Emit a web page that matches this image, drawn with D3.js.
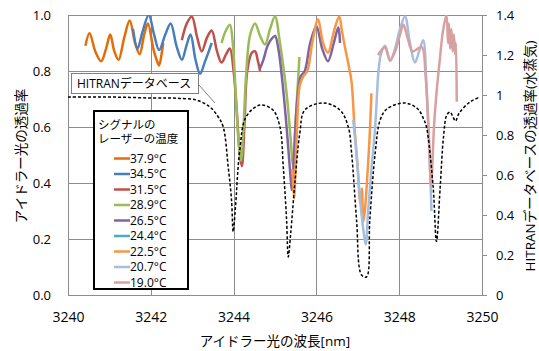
<!DOCTYPE html>
<html>
<head>
<meta charset="utf-8">
<script src="https://cdn.jsdelivr.net/npm/d3@7"></script>
<style>
  body { margin: 0; background: #fff; }
  text { font-family: "Open Sans", "Noto Sans CJK JP", sans-serif; fill: #000; }
</style>
</head>
<body>
<div id="chart"></div>
<script>
// measured series: [wavelength nm, transmittance]
const s379 = [[3240.42,0.89],[3240.52,0.935],[3240.66,0.87],[3240.80,0.835],[3240.92,0.88],[3241.02,0.93],[3241.12,0.87],[3241.22,0.84],[3241.36,0.92],[3241.49,0.98],[3241.62,0.9],[3241.73,0.86],[3241.84,0.93],[3241.93,0.97],[3242.06,0.88],[3242.14,0.84],[3242.2,0.82],[3242.26,0.86],[3242.3,0.9]];
const s345 = [[3241.57,0.95],[3241.68,0.88],[3241.8,0.94],[3241.95,1.0],[3242.08,0.93],[3242.2,0.875],[3242.35,0.93],[3242.48,0.97],[3242.62,0.89],[3242.75,0.84],[3242.86,0.89],[3242.96,0.93],[3243.08,0.84],[3243.19,0.79],[3243.3,0.83],[3243.4,0.87],[3243.47,0.9]];
const s315 = [[3242.75,0.91],[3242.87,0.97],[3242.99,0.995],[3243.12,0.92],[3243.23,0.87],[3243.36,0.92],[3243.47,0.945],[3243.6,0.87],[3243.71,0.83],[3243.82,0.86],[3243.91,0.88],[3244.0,0.8],[3244.08,0.65],[3244.15,0.5],[3244.2,0.46],[3244.26,0.6],[3244.33,0.8],[3244.44,0.865],[3244.52,0.87],[3244.58,0.84],[3244.64,0.80]];
const s289 = [[3243.71,0.9],[3243.8,0.94],[3243.91,0.965],[3243.98,0.9],[3244.05,0.72],[3244.12,0.55],[3244.18,0.48],[3244.24,0.6],[3244.3,0.78],[3244.4,0.93],[3244.52,0.97],[3244.64,0.925],[3244.76,0.895],[3244.88,0.95],[3245.0,0.995],[3245.12,0.9],[3245.28,0.72],[3245.36,0.59],[3245.44,0.46],[3245.49,0.6],[3245.59,0.85]];
const s265 = [[3244.64,0.81],[3244.72,0.84],[3244.82,0.89],[3244.92,0.915],[3245.0,0.925],[3245.08,0.88],[3245.18,0.76],[3245.28,0.6],[3245.36,0.45],[3245.41,0.375],[3245.46,0.5],[3245.54,0.7],[3245.62,0.78],[3245.72,0.8],[3245.85,0.9],[3246.0,0.96],[3246.14,0.88],[3246.28,0.835],[3246.42,0.9],[3246.53,0.955],[3246.57,0.9]];
const s244 = [];
const s225 = [[3245.42,0.45],[3245.46,0.345],[3245.52,0.55],[3245.6,0.75],[3245.68,0.78],[3245.78,0.8],[3245.9,0.9],[3246.04,0.985],[3246.16,0.9],[3246.28,0.865],[3246.42,0.94],[3246.55,0.995],[3246.62,0.94],[3246.69,0.885],[3246.78,0.82],[3246.85,0.76],[3246.92,0.6],[3247.0,0.45],[3247.06,0.33],[3247.1,0.38],[3247.13,0.26],[3247.17,0.3],[3247.22,0.4],[3247.28,0.55],[3247.33,0.72]];
const s207 = [[3246.89,0.625],[3246.97,0.5],[3247.05,0.35],[3247.12,0.25],[3247.19,0.18],[3247.25,0.3],[3247.33,0.45],[3247.42,0.6],[3247.5,0.8],[3247.56,0.86],[3247.66,0.89],[3247.78,0.835],[3247.9,0.88],[3248.02,0.95],[3248.14,0.995],[3248.26,0.9],[3248.38,0.83],[3248.48,0.87],[3248.58,0.91],[3248.66,0.74],[3248.72,0.55],[3248.78,0.3]];
const s190 = [[3247.49,0.857],[3247.6,0.88],[3247.66,0.885],[3247.78,0.84],[3247.9,0.87],[3248.02,0.93],[3248.1,0.965],[3248.2,0.92],[3248.32,0.87],[3248.45,0.88],[3248.55,0.885],[3248.64,0.78],[3248.72,0.55],[3248.77,0.39],[3248.84,0.6],[3248.9,0.72],[3248.98,0.84],[3249.06,0.945],[3249.14,1.0],[3249.18,0.9],[3249.2,0.97],[3249.23,0.88],[3249.26,0.95],[3249.29,0.87],[3249.32,0.93],[3249.35,0.86],[3249.37,0.9],[3249.39,0.69]];

// HITRAN database (right axis)
const hitran = [[3240,0.99],[3240.5,0.99],[3241,0.99],[3241.5,0.988],[3242,0.985],[3242.4,0.985],[3242.7,0.983],[3243.1,0.975],[3243.43,0.94],[3243.63,0.89],[3243.75,0.84],[3243.87,0.64],[3243.95,0.475],[3243.99,0.317],[3244.04,0.425],[3244.15,0.725],[3244.3,0.89],[3244.64,0.95],[3244.95,0.925],[3245.12,0.84],[3245.2,0.64],[3245.28,0.375],[3245.32,0.19],[3245.38,0.31],[3245.48,0.56],[3245.6,0.81],[3245.72,0.925],[3246.17,0.96],[3246.57,0.925],[3246.77,0.84],[3246.85,0.71],[3246.97,0.375],[3247.09,0.10],[3247.21,0.09],[3247.29,0.375],[3247.42,0.71],[3247.54,0.875],[3247.7,0.93],[3248.14,0.96],[3248.45,0.93],[3248.6,0.875],[3248.66,0.84],[3248.82,0.54],[3248.9,0.267],[3248.99,0.54],[3249.07,0.79],[3249.15,0.9],[3249.23,0.915],[3249.3,0.89],[3249.36,0.87],[3249.45,0.91],[3249.71,0.965],[3249.95,0.99]];

const labels = ['37.9°C','34.5°C','31.5°C','28.9°C','26.5°C','24.4°C','22.5°C','20.7°C','19.0°C'];
const colors = ['#E46C0A','#4A7EBB','#C0504D','#9BBB59','#8064A2','#4BACC6','#F79646','#A6BEDD','#D9A0A0'];
const seriesData = [s379, s345, s315, s289, s265, s244, s225, s207, s190];

const xTicks = [3240, 3242, 3244, 3246, 3248, 3250];
const yTicks = [0, 0.2, 0.4, 0.6, 0.8, 1.0];
const y2Ticks = [0, 0.2, 0.4, 0.6, 0.8, 1, 1.2, 1.4];

const width = 539, height = 351;
const margin = {top: 15, right: 57, bottom: 56, left: 68};
const w = width - margin.left - margin.right;
const h = height - margin.top - margin.bottom;

const svg = d3.select('#chart').append('svg')
  .attr('width', width)
  .attr('height', height);

const g = svg.append('g').attr('transform', `translate(${margin.left},${margin.top})`);

const x = d3.scaleLinear().domain([3240, 3250]).range([0, w]);
const y = d3.scaleLinear().domain([0, 1]).range([h, 0]);
const y2 = d3.scaleLinear().domain([0, 1.4]).range([h, 0]);

const gridColor = '#8c8c8c';

// gridlines
g.append('g')
  .selectAll('line')
  .data(xTicks.slice(1, -1))
  .join('line')
  .attr('x1', d => Math.round(x(d)) + 0.5)
  .attr('x2', d => Math.round(x(d)) + 0.5)
  .attr('y1', 0).attr('y2', h)
  .attr('stroke', gridColor);

g.append('g')
  .selectAll('line')
  .data(yTicks.slice(1, -1))
  .join('line')
  .attr('y1', d => Math.round(y(d)) + 0.5)
  .attr('y2', d => Math.round(y(d)) + 0.5)
  .attr('x1', 0).attr('x2', w)
  .attr('stroke', gridColor);

// plot border
g.append('rect')
  .attr('x', 0.5).attr('y', 0.5)
  .attr('width', w).attr('height', h)
  .attr('fill', 'none')
  .attr('stroke', gridColor);

// left axis labels
const yAxis = g.append('g')
  .call(d3.axisLeft(y).tickValues(yTicks).tickFormat(d3.format('.1f')).tickSize(0).tickPadding(17));
yAxis.select('.domain').remove();
yAxis.selectAll('text').attr('font-size', 13).attr('font-family', null);

// right axis
const y2Axis = g.append('g')
  .attr('transform', `translate(${w},0)`)
  .call(d3.axisRight(y2).tickValues(y2Ticks).tickFormat(d => d3.format('~g')(d)).tickSize(5).tickPadding(9));
y2Axis.select('.domain').remove();
y2Axis.selectAll('line').attr('stroke', gridColor);
y2Axis.selectAll('text').attr('font-size', 13).attr('font-family', null);

// x axis labels
const xAxis = g.append('g')
  .attr('transform', `translate(0,${h})`)
  .call(d3.axisBottom(x).tickValues(xTicks).tickFormat(d3.format('d')).tickSize(0).tickPadding(17));
xAxis.select('.domain').remove();
xAxis.selectAll('text').attr('font-size', 14).attr('font-family', null);

// clip
svg.append('defs').append('clipPath').attr('id', 'plotClip')
  .append('rect').attr('x', 0).attr('y', 0).attr('width', w).attr('height', h);

const line = d3.line()
  .x(d => x(d[0]))
  .y(d => y(d[1]))
  .curve(d3.curveCatmullRom.alpha(0.5));

const plot = g.append('g').attr('clip-path', 'url(#plotClip)');

plot.selectAll('path.series')
  .data(seriesData)
  .join('path')
  .attr('class', 'series')
  .attr('d', d => d.length ? line(d) : null)
  .attr('fill', 'none')
  .attr('stroke', (d, i) => colors[i])
  .attr('stroke-width', 2.5)
  .attr('stroke-linejoin', 'round');

const line2 = d3.line()
  .x(d => x(d[0]))
  .y(d => y2(d[1]))
  .curve(d3.curveCatmullRom.alpha(0.5));

plot.append('path')
  .attr('d', line2(hitran))
  .attr('fill', 'none')
  .attr('stroke', '#000')
  .attr('stroke-width', 1.5)
  .attr('stroke-dasharray', '3,2');

// HITRAN callout
svg.append('line')
  .attr('x1', 198).attr('y1', 84)
  .attr('x2', 215).attr('y2', 103)
  .attr('stroke', '#7f7f7f');
svg.append('rect')
  .attr('x', 71.5).attr('y', 73.5)
  .attr('width', 127).attr('height', 20)
  .attr('fill', '#fff')
  .attr('stroke', '#7f7f7f');
svg.append('text')
  .attr('x', 77).attr('y', 88)
  .attr('font-size', 12)
  .text('HITRANデータベース');

// legend
const legend = svg.append('g');
legend.append('rect')
  .attr('x', 94).attr('y', 111)
  .attr('width', 94).attr('height', 178)
  .attr('fill', '#fff')
  .attr('stroke', '#000')
  .attr('stroke-width', 2);
legend.append('text').attr('x', 98).attr('y', 128.5).attr('font-size', 11.5).text('シグナルの');
legend.append('text').attr('x', 98).attr('y', 143).attr('font-size', 11.5).text('レーザーの温度');

const items = legend.selectAll('g.item')
  .data(labels)
  .join('g')
  .attr('class', 'item')
  .attr('transform', (d, i) => `translate(0,${158.5 + i * 15.5})`);
items.append('line')
  .attr('x1', 114).attr('x2', 130)
  .attr('stroke', (d, i) => colors[i])
  .attr('stroke-width', 2.5);
items.append('text')
  .attr('x', 130).attr('dy', '0.36em')
  .attr('font-size', 12)
  .text(d => d);

// axis titles
svg.append('text')
  .attr('x', 275).attr('y', 346)
  .attr('text-anchor', 'middle')
  .attr('font-size', 13.5)
  .text('アイドラー光の波長[nm]');

svg.append('text')
  .attr('transform', 'translate(26,156) rotate(-90)')
  .attr('text-anchor', 'middle')
  .attr('font-size', 13.5)
  .text('アイドラー光の透過率');

svg.append('text')
  .attr('transform', 'translate(535,156) rotate(-90)')
  .attr('text-anchor', 'middle')
  .attr('font-size', 13.5)
  .text('HITRANデータベースの透過率(水蒸気)');
</script>
</body>
</html>
